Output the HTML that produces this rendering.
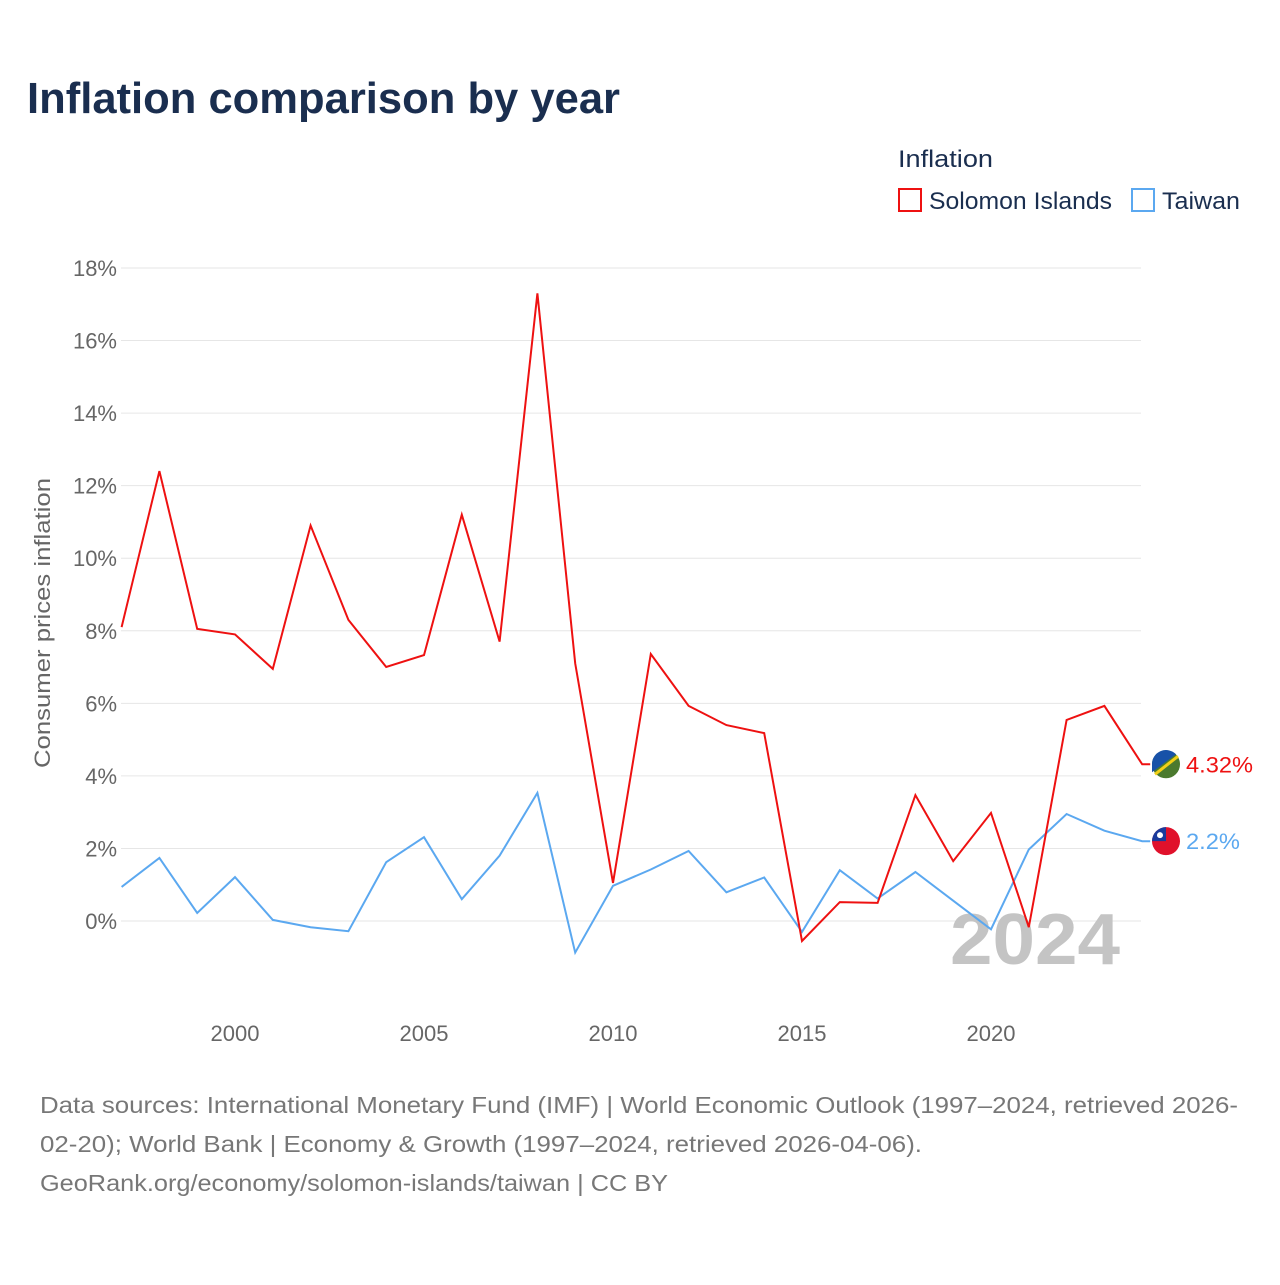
<!DOCTYPE html>
<html><head><meta charset="utf-8">
<style>
body{margin:0;background:#fff;font-family:"Liberation Sans",sans-serif;}
#wrap{position:relative;width:1280px;height:1280px;}
</style></head>
<body>
<div id="wrap">
<svg id="chart" width="1280" height="1280"></svg>
</div>
<script>
const years=[1997,1998,1999,2000,2001,2002,2003,2004,2005,2006,2007,2008,2009,2010,2011,2012,2013,2014,2015,2016,2017,2018,2019,2020,2021,2022,2023,2024];
const solomon=[8.1,12.4,8.05,7.9,6.95,10.9,8.3,7.0,7.33,11.2,7.7,17.3,7.1,1.05,7.36,5.93,5.4,5.18,-0.55,0.52,0.5,3.47,1.65,2.98,-0.17,5.54,5.93,4.32];
const taiwan=[0.94,1.74,0.22,1.21,0.03,-0.17,-0.28,1.62,2.31,0.6,1.8,3.53,-0.87,0.97,1.42,1.93,0.79,1.2,-0.3,1.4,0.62,1.35,0.56,-0.23,1.97,2.95,2.49,2.2];
const yTicks=[0,2,4,6,8,10,12,14,16,18];
const xTicks=[2000,2005,2010,2015,2020];
const NS="http://www.w3.org/2000/svg";
const svg=document.getElementById('chart');
const X=y=>235+(y-2000)*37.8;
const Y=v=>921-v*36.28;
function mk(t,a,txt){const e=document.createElementNS(NS,t);for(const k in a)e.setAttribute(k,a[k]);if(txt!=null)e.textContent=txt;svg.appendChild(e);return e;}
let e;
e=mk('text',{x:27,y:113,'font-size':44,'font-weight':'bold',fill:'#1a2e4f',textLength:593,lengthAdjust:'spacingAndGlyphs'},'Inflation comparison by year');


yTicks.forEach(t=>{
 e=mk('line',{x1:121,x2:1141,y1:Y(t),y2:Y(t),stroke:'#e6e6e6','stroke-width':1});
 
 
 e=mk('text',{x:117,y:Y(t)+8,'text-anchor':'end','font-size':22,fill:'#666'},t+'%');
 
 
});
xTicks.forEach(t=>{
 e=mk('text',{x:X(t),y:1041,'text-anchor':'middle','font-size':22,fill:'#666'},String(t));
 
 
});
e=mk('text',{x:0,y:0,transform:'translate(50,623) rotate(-90)','text-anchor':'middle','font-size':22,fill:'#666',textLength:290,lengthAdjust:'spacingAndGlyphs'},'Consumer prices inflation');


e=mk('text',{x:1120,y:964,'text-anchor':'end','font-size':72,'font-weight':'bold',fill:'#c4c4c4',textLength:170,lengthAdjust:'spacingAndGlyphs'},'2024');


function line(vals,col,name){
 let d=vals.map((v,i)=>(i?'L':'M')+X(years[i]).toFixed(1)+','+Y(v).toFixed(1)).join(' ');
 d+=' h8';
 const p=mk('path',{d:d,fill:'none',stroke:col,'stroke-width':2});
 
 
}
line(taiwan,'#5ba8f0','taiwan-line');
line(solomon,'#ee1111','solomon-islands-line');
const ls=solomon[solomon.length-1], lt=taiwan[taiwan.length-1];
e=mk('circle',{cx:1166,cy:Y(ls),r:14,fill:'#4b7a2e'});


e=mk('path',{d:`M1152,${Y(ls)} A14,14 0 0 1 1176,${Y(ls)-10} L1152,${Y(ls)+8} Z`,fill:'#1852a8'});


e=mk('line',{x1:1155,y1:Y(ls)+10,x2:1178,y2:Y(ls)-8,stroke:'#f2d016','stroke-width':3});


e=mk('text',{x:1186,y:Y(ls)+8,'font-size':22,fill:'#ee1111',textLength:67,lengthAdjust:'spacingAndGlyphs'},ls+'%');


e=mk('circle',{cx:1166,cy:Y(lt),r:14,fill:'#e0112b'});


e=mk('path',{d:`M1152,${Y(lt)} A14,14 0 0 1 1166,${Y(lt)-14} L1166,${Y(lt)} Z`,fill:'#1a3b9c'});


e=mk('circle',{cx:1160,cy:Y(lt)-6,r:3,fill:'#fff'});


e=mk('text',{x:1186,y:Y(lt)+8,'font-size':22,fill:'#5ba8f0',textLength:54,lengthAdjust:'spacingAndGlyphs'},lt+'%');


e=mk('text',{x:898,y:167,'font-size':24,fill:'#1a2e4f',textLength:95,lengthAdjust:'spacingAndGlyphs'},'Inflation');


e=mk('rect',{x:899,y:189,width:22,height:22,fill:'none',stroke:'#ee1111','stroke-width':2});


e=mk('text',{x:929,y:209,'font-size':24,fill:'#1a2e4f',textLength:183,lengthAdjust:'spacingAndGlyphs'},'Solomon Islands');


e=mk('rect',{x:1132,y:189,width:22,height:22,fill:'none',stroke:'#5ba8f0','stroke-width':2});


e=mk('text',{x:1162,y:209,'font-size':24,fill:'#1a2e4f',textLength:78,lengthAdjust:'spacingAndGlyphs'},'Taiwan');


const foot=['Data sources: International Monetary Fund (IMF) | World Economic Outlook (1997–2024, retrieved 2026-','02-20); World Bank | Economy & Growth (1997–2024, retrieved 2026-04-06).','GeoRank.org/economy/solomon-islands/taiwan | CC BY'];
const footW=[1198,882,628];
foot.forEach((t,i)=>{
 e=mk('text',{x:40,y:1113+i*39,'font-size':23,fill:'#777',textLength:footW[i],lengthAdjust:'spacingAndGlyphs'},t);
 
 
});
</script>
</body></html>
